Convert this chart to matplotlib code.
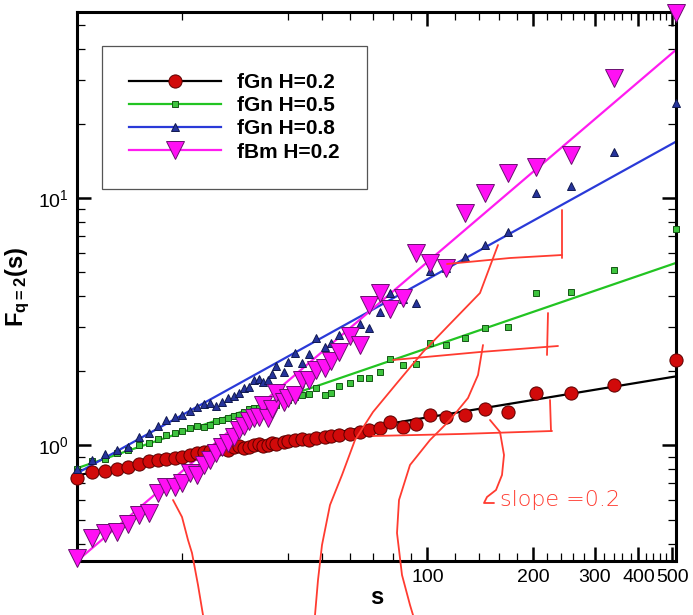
import matplotlib
matplotlib.use("Agg")
import matplotlib.pyplot as plt
from matplotlib.lines import Line2D
from matplotlib.ticker import FixedLocator, NullFormatter, LogLocator
from matplotlib.transforms import Affine2D

# ===================== data =====================
# window sizes s (same grid for every series)
s_vals = [10, 11, 12, 13, 14, 15, 16, 17, 18, 19, 20, 21, 22, 23, 24, 25, 26, 27,
          28, 29, 30, 31, 32, 33, 34, 35, 36, 37, 39, 40, 42, 44, 46, 48, 51, 53,
          56, 60, 64, 68, 73, 78, 85, 93, 102, 113, 128, 146, 170, 204, 256, 341, 512]

fgn02 = [0.735, 0.78, 0.79, 0.80, 0.82, 0.84, 0.86, 0.87, 0.88, 0.89, 0.90, 0.91,
         0.93, 0.94, 0.95, 0.96, 0.97, 0.96, 0.98, 0.99, 0.97, 0.98, 1.00, 1.01,
         0.99, 1.00, 1.02, 1.01, 1.03, 1.04, 1.05, 1.06, 1.05, 1.07, 1.08, 1.09,
         1.10, 1.11, 1.13, 1.15, 1.17, 1.24, 1.19, 1.22, 1.33, 1.30, 1.32, 1.40,
         1.36, 1.62, 1.62, 1.75, 2.21]

fgn05 = [0.80, 0.86, 0.88, 0.93, 0.96, 1.00, 1.02, 1.06, 1.10, 1.12, 1.14, 1.17,
         1.20, 1.19, 1.21, 1.25, 1.27, 1.29, 1.31, 1.33, 1.36, 1.40, 1.41, 1.42,
         1.43, 1.45, 1.47, 1.46, 1.50, 1.52, 1.57, 1.60, 1.61, 1.70, 1.59, 1.62,
         1.73, 1.78, 1.87, 1.87, 1.97, 2.23, 2.11, 2.13, 2.59, 2.54, 2.71, 2.98,
         3.00, 4.13, 4.16, 5.11, 7.5]

fgn08 = [0.80, 0.87, 0.92, 0.96, 0.98, 1.08, 1.12, 1.20, 1.27, 1.30, 1.32, 1.38,
         1.43, 1.47, 1.48, 1.44, 1.50, 1.55, 1.58, 1.62, 1.70, 1.72, 1.83, 1.85,
         1.80, 1.84, 1.95, 2.10, 1.97, 2.18, 2.36, 2.15, 2.33, 2.71, 2.50, 2.60,
         2.78, 2.90, 3.08, 2.99, 3.45, 4.12, 3.90, 3.76, 5.06, 5.20, 5.77, 6.45,
         7.29, 10.5, 11.2, 15.3, 24.3]

fbm02 = [0.35, 0.42, 0.44, 0.445, 0.48, 0.52, 0.53, 0.64, 0.68, 0.68, 0.70, 0.77,
         0.76, 0.83, 0.87, 0.93, 0.98, 1.02, 1.08, 1.15, 1.20, 1.25, 1.29, 1.30,
         1.45, 1.29, 1.40, 1.62, 1.49, 1.55, 1.60, 1.83, 1.83, 2.01, 2.05, 2.20,
         2.38, 2.76, 2.54, 3.68, 4.12, 3.55, 3.95, 6.0, 5.47, 5.2, 8.7, 10.5,
         12.6, 13.3, 14.9, 30.6, 56.0]

# power-law fits: F(s) = F(10) * (s/10)**slope
fit_f10 = [0.756, 0.807, 0.77, 0.34]
fit_slope = [0.234, 0.486, 0.785, 1.21]

labels = ["fGn H=0.2", "fGn H=0.5", "fGn H=0.8", "fBm H=0.2"]
series = [fgn02, fgn05, fgn08, fbm02]

line_colors = ["black", "#22c422", "#2a3ad8", "#ff1cf0"]
face_colors = ["#d10a0a", "#3ec43e", "#26349c", "#ff10f4"]
edge_colors = ["#5a0000", "#145514", "#101850", "#6a1070"]
markers = ["o", "s", "^", "v"]
msizes = [9.5, 4.8, 5.5, 13.5]

xmajor = [100, 200, 300, 400, 500]
xminor = [20, 40, 50, 60, 70, 80, 90, 120, 140, 160, 180, 220, 240, 260, 280,
          320, 340, 360, 380, 420, 440, 460, 480]

# hand-drawn red notes (figure pixels, origin top-left)
notes_lines = [
    [(373, 436), (460, 434), (552, 431)],
    [(550, 400), (551, 431)],
    [(393, 360), (480, 352), (558, 346)],
    [(548, 313), (547, 355)],
    [(447, 264), (510, 258), (562, 255)],
    [(562, 210), (562, 258)],
    [(498, 245), (480, 293), (447, 327), (423, 352), (397, 383), (373, 412),
     (355, 440), (342, 475), (330, 505), (322, 545), (318, 580), (315, 615)],
    [(483, 345), (478, 375), (468, 398), (450, 420), (430, 440), (410, 465),
     (399, 500), (397, 533), (402, 575), (410, 605), (413, 615)],
    [(173, 500), (182, 517), (188, 540), (192, 553), (198, 585), (203, 615)],
    [(490, 420), (500, 432), (504, 455), (502, 475), (496, 490), (487, 497),
     (484, 503), (494, 503)],
]

# ===================== plotting =====================
plt.rcParams["font.family"] = ["Liberation Sans", "DejaVu Sans"]
plt.rcParams["mathtext.fontset"] = "custom"
plt.rcParams["mathtext.rm"] = "Liberation Sans"
plt.rcParams["mathtext.bf"] = "Liberation Sans:bold"

fig = plt.figure(figsize=(6.93, 6.15), dpi=100)
ax = fig.add_axes([77 / 693, 1 - 561 / 615, 599 / 693, 549 / 615])

x_lo, x_hi = 10, 512
for i, ys in enumerate(series):
    xs_fit = [x_lo, x_hi]
    ys_fit = [fit_f10[i] * (x / 10.0) ** fit_slope[i] for x in xs_fit]
    ax.plot(xs_fit, ys_fit, color=line_colors[i], lw=1.6, zorder=2)

for i, ys in enumerate(series):
    ax.plot(s_vals, ys, ls="none", marker=markers[i], ms=msizes[i],
            mfc=face_colors[i], mec=edge_colors[i], mew=0.7,
            clip_on=False, zorder=3 + i)

ax.set_xscale("log")
ax.set_yscale("log")
ax.set_xlim(x_lo, x_hi)
ax.set_ylim(0.34, 56.6)

ax.xaxis.set_major_locator(FixedLocator(xmajor))
ax.xaxis.set_minor_locator(FixedLocator(xminor))
ax.set_xticklabels([str(v) for v in xmajor])
ax.xaxis.set_minor_formatter(NullFormatter())
ax.yaxis.set_major_locator(LogLocator(base=10, numticks=10))
ax.yaxis.set_minor_locator(LogLocator(base=10, subs=range(2, 10), numticks=20))
ax.yaxis.set_minor_formatter(NullFormatter())

ax.tick_params(which="both", direction="in", top=True, right=True, labelsize=14)
ax.tick_params(which="major", length=10, width=1.8, pad=6)
ax.tick_params(which="minor", length=6, width=0.9)
for sp in ax.spines.values():
    sp.set_linewidth(2.2)

ax.set_xlabel("s", fontsize=17, fontweight="bold", labelpad=0)
ax.set_ylabel(r"$\mathbf{F_{q=2}(s)}$", fontsize=17, labelpad=4)

handles = [Line2D([], [], color=line_colors[i], lw=1.6, marker=markers[i],
                  ms=msizes[i], mfc=face_colors[i], mec=edge_colors[i], mew=0.7)
           for i in range(4)]
leg = ax.legend(handles, labels, loc="upper left",
                bbox_to_anchor=(102 / 693, 1 - 46 / 615),
                bbox_transform=fig.transFigure,
                prop={"weight": "bold", "size": 15}, numpoints=1,
                handlelength=4.4, handletextpad=0.8, labelspacing=0.2,
                borderpad=1.3, borderaxespad=0, fancybox=False,
                framealpha=1, edgecolor="#555555")
leg.get_frame().set_linewidth(0.9)

# red hand annotations
px = Affine2D().scale(1 / 693, -1 / 615).translate(0, 1) + fig.transFigure
for pts in notes_lines:
    xs, ys = zip(*pts)
    fig.add_artist(Line2D(xs, ys, transform=px, color="#ff3b30", lw=1.3,
                          solid_capstyle="round", zorder=10))
fig.text(500 / 693, 1 - 500 / 615, "slope =0.2", color="#ff3b30",
         fontsize=16, va="center", ha="left",
         family=["DejaVu Sans"], fontweight="light")

plt.savefig("out.png", dpi=100)
